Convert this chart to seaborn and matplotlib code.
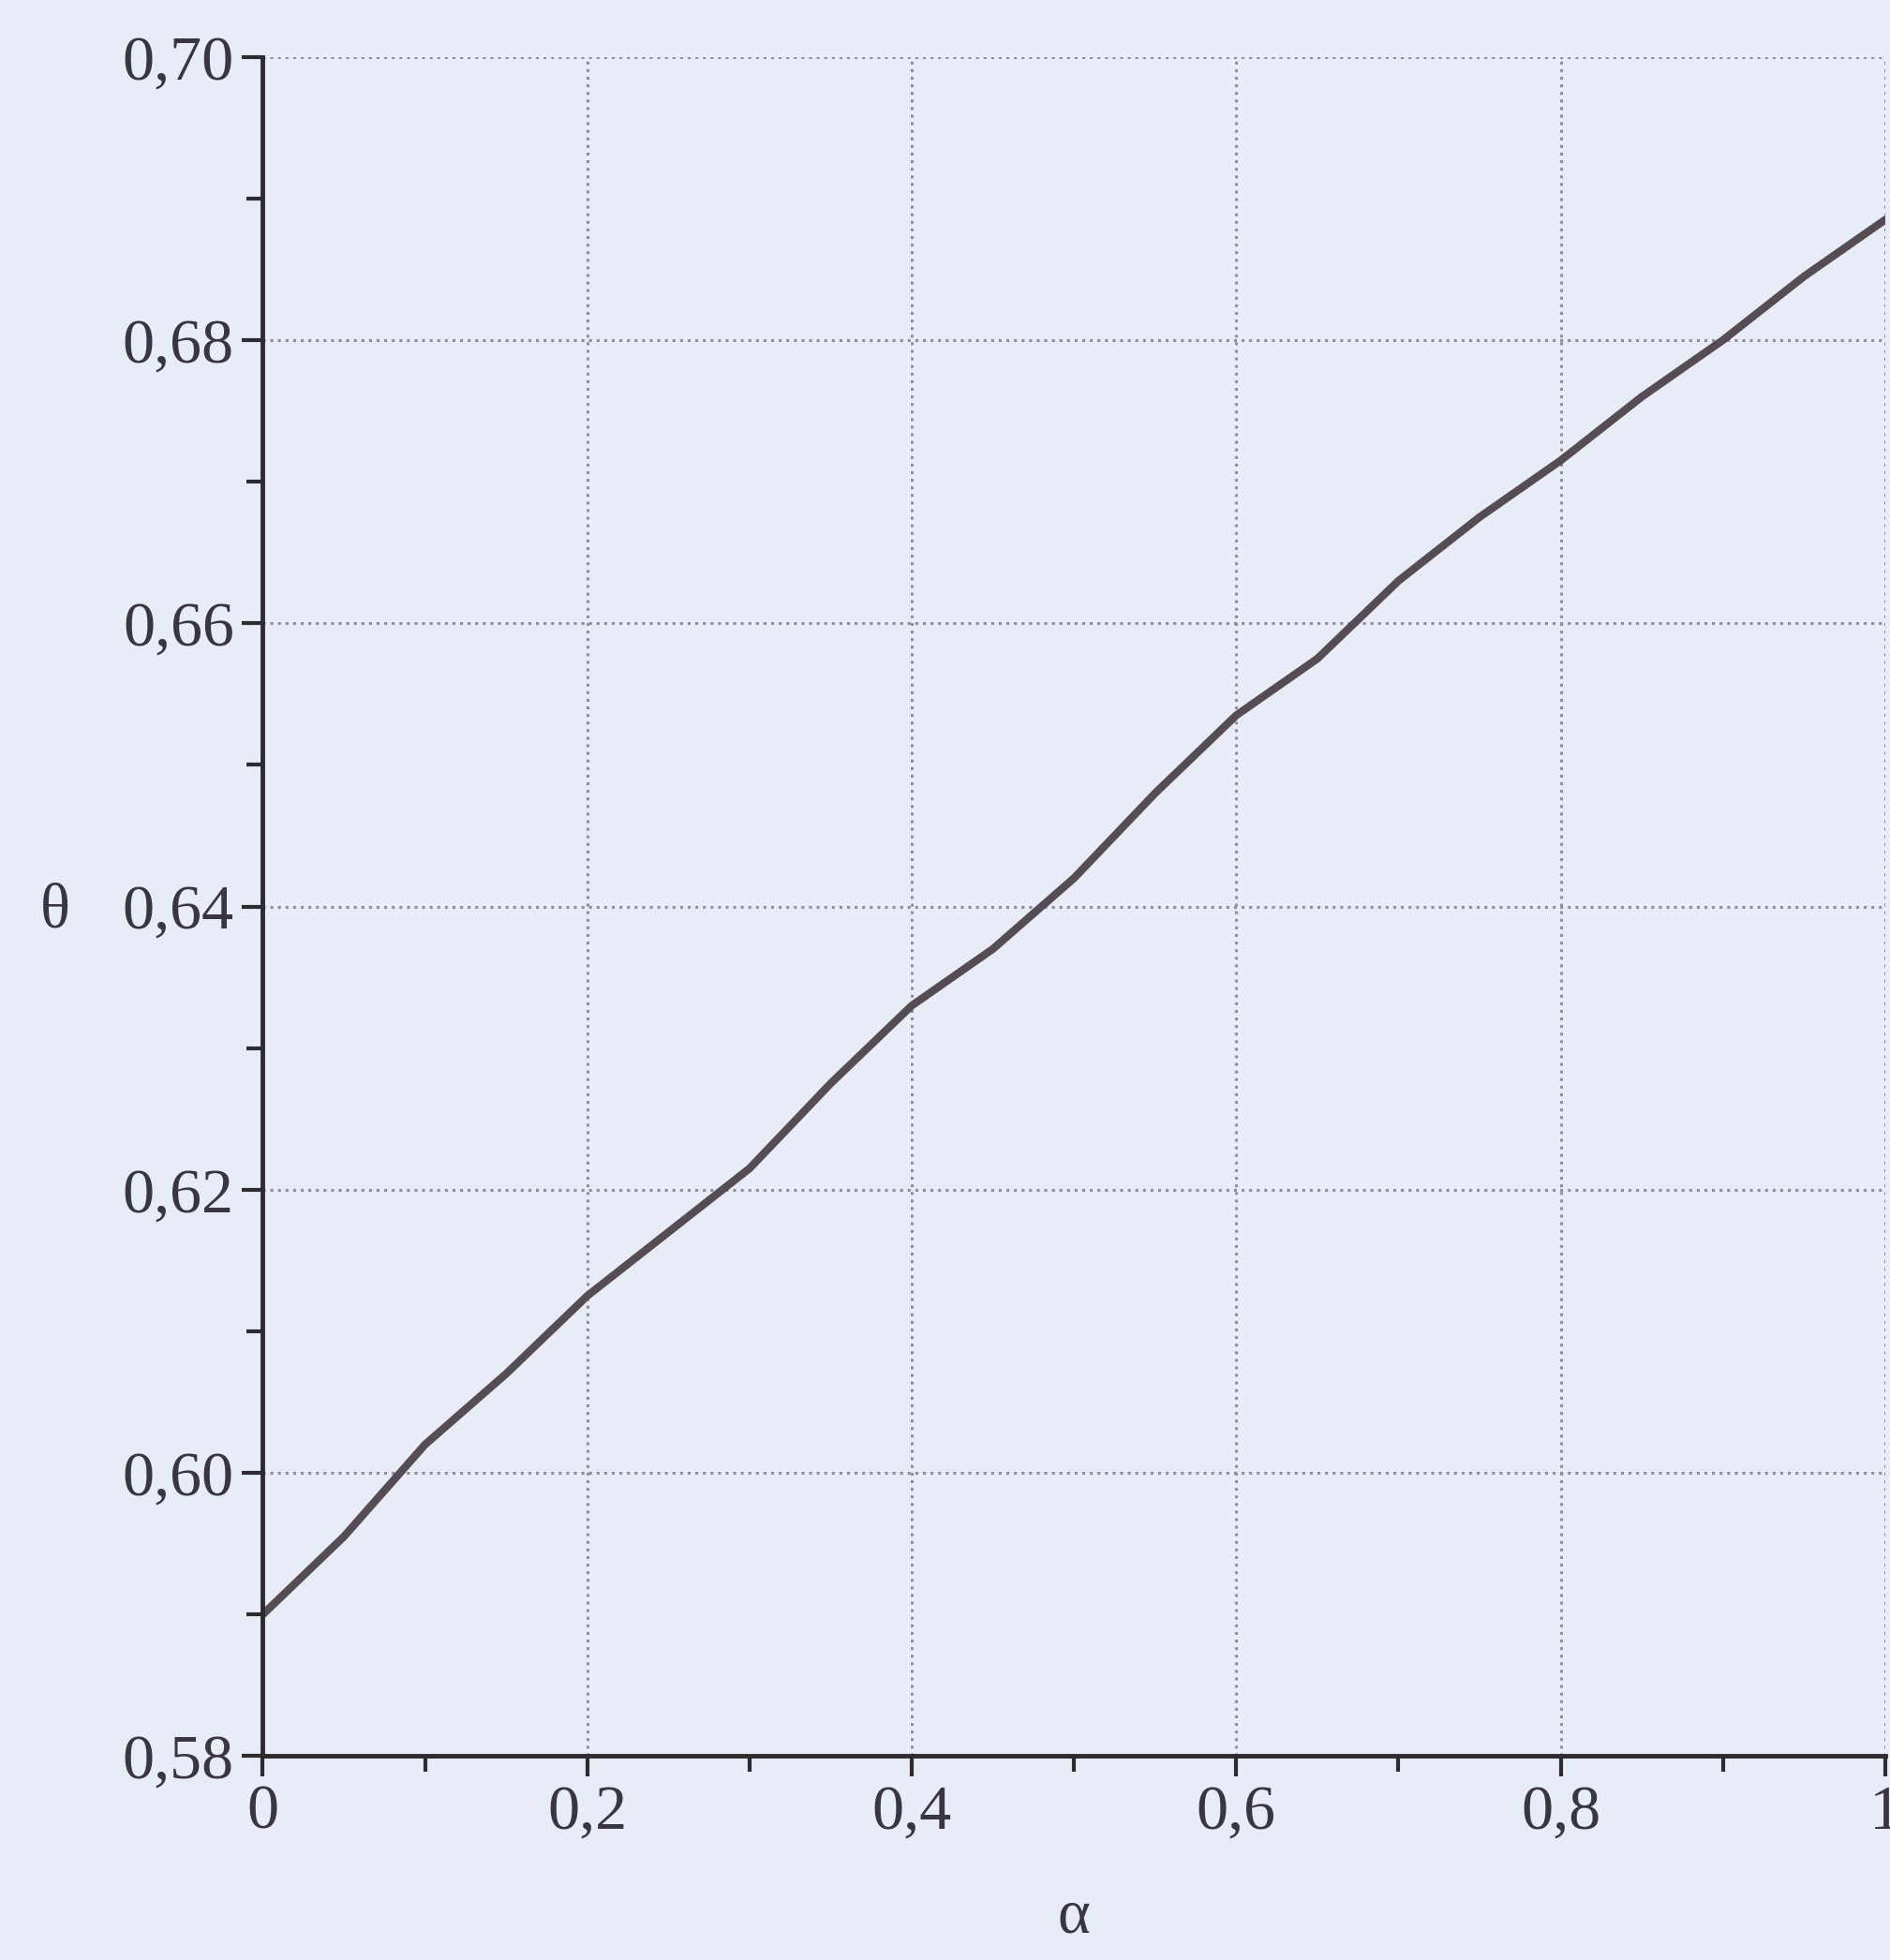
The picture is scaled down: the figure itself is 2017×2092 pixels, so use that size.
import numpy as np
import pandas as pd
import seaborn as sns
import matplotlib.pyplot as plt
from matplotlib.ticker import FuncFormatter, MultipleLocator

# значения
alpha = [0.00, 0.05, 0.10, 0.15, 0.20, 0.25, 0.30, 0.35, 0.40, 0.45, 0.50,
         0.55, 0.60, 0.65, 0.70, 0.75, 0.80, 0.85, 0.90, 0.95, 1.00]
theta = [0.5900, 0.5955, 0.6020, 0.6070, 0.6125, 0.6170, 0.6215, 0.6275, 0.6330, 0.6370, 0.6420,
         0.6480, 0.6535, 0.6575, 0.6630, 0.6675, 0.6715, 0.6760, 0.6800, 0.6845, 0.6885]
x_ticks = [0, 0.2, 0.4, 0.6, 0.8, 1.0]
y_ticks = [0.58, 0.60, 0.62, 0.64, 0.66, 0.68, 0.70]

df = pd.DataFrame({'alpha': alpha, 'theta': theta})

bg = '#e8ecf6'
sns.set_theme(style='white')
plt.rcParams['font.family'] = ['Liberation Serif', 'DejaVu Serif']

fig = plt.figure(figsize=(20.17, 20.92), dpi=100, facecolor=bg)
ax = fig.add_axes([0.139, 0.104, 0.8585, 0.867])
ax.set_facecolor(bg)

sns.lineplot(data=df, x='alpha', y='theta', ax=ax, color='#564c53', linewidth=6)

ax.set_xlim(0, 1)
ax.set_ylim(0.58, 0.70)
ax.set_xticks(x_ticks)
ax.set_yticks(y_ticks)
ax.xaxis.set_minor_locator(MultipleLocator(0.1))
ax.yaxis.set_minor_locator(MultipleLocator(0.01))

# подписи с запятой вместо точки
ax.xaxis.set_major_formatter(FuncFormatter(lambda v, p: ('0' if v == 0 else '1' if v == 1 else ('%.1f' % v).replace('.', ','))))
ax.yaxis.set_major_formatter(FuncFormatter(lambda v, p: ('%.2f' % v).replace('.', ',')))

ax.grid(True, which='major', linestyle=':', linewidth=2.2, color='#8e8e96')
for s in ['top', 'right']:
    ax.spines[s].set_visible(False)
for s in ['left', 'bottom']:
    ax.spines[s].set_color('#2d2a30')
    ax.spines[s].set_linewidth(3.5)

ax.tick_params(which='major', direction='out', length=16, width=3, color='#2d2a30',
               labelsize=49, labelcolor='#3a3640', left=True, bottom=True, pad=6)
ax.tick_params(which='minor', direction='out', length=12, width=3, color='#2d2a30',
               left=True, bottom=True)

ax.set_xlabel('α', fontsize=48, color='#3a3640', labelpad=36)
ax.set_ylabel('θ', fontsize=48, color='#3a3640', rotation=0)
ax.yaxis.set_label_coords(-0.128, 0.48)

fig.savefig('out.png', dpi=100, facecolor=bg)
